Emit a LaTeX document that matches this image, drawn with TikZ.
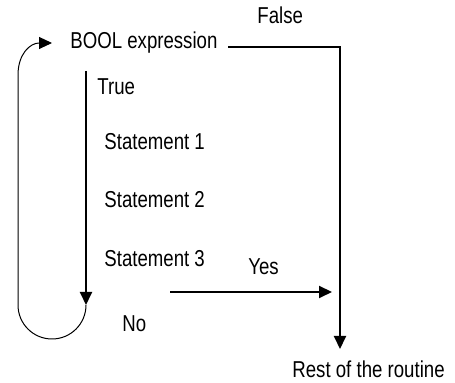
\documentclass[tikz,border=0pt]{standalone}
\usepackage{fontspec}
\setmainfont[FakeStretch=0.81]{Liberation Sans}
\usetikzlibrary{arrows.meta,positioning}
\tikzset{>={Triangle[length=6.5pt,width=6pt]}}
\tikzset{lbl/.style={font=\fontsize{11.5}{13}\selectfont,inner sep=0pt,anchor=base west}}
\tikzset{flow/.style={line width=1pt}}
\tikzset{loopback/.style={line width=0.5pt}}

\begin{document}
\begin{tikzpicture}[x=0.5pt,y=-0.5pt]
    \useasboundingbox (0,0) rectangle (455,383);

    \node[lbl] (bool)  at (70,49)   {BOOL expression};
    \node[lbl] (true)  at (97,95)   {True};
    \node[lbl] (st1)   at (104,150) {Statement 1};
    \node[lbl] (st2)   at (104,208) {Statement 2};
    \node[lbl] (st3)   at (104,267) {Statement 3};
    \node[lbl] (no)    at (122,332) {No};
    \node[lbl] (yes)   at (248,275) {Yes};
    \node[lbl] (false) at (257,24)  {False};
    \node[lbl] (rest)  at (292,378) {Rest of the routine};

    \coordinate (dtop)  at (86,71);
    \coordinate (dbot)  at (86,305);
    \coordinate (lbot)  at (18,305);
    \coordinate (ltop)  at (18,75);
    \coordinate (btip)  at (52,43);
    \coordinate (fstart) at (228,47);
    \coordinate (fcorner) at (340,47);
    \coordinate (ftip)  at (340,349);
    \coordinate (ystart) at (170,292);
    \coordinate (ytip)  at (332,292);

    % true branch and loop back
    \draw[flow,->] (dtop) -- (dbot);
    \draw[loopback,->] (dbot) arc[start angle=0,end angle=180,radius=34]
        -- (ltop) .. controls (18,54) and (30,43) .. (btip);

    % false branch
    \draw[flow,->] (fstart) -- (fcorner) -- (ftip);

    % yes
    \draw[flow,->] (ystart) -- (ytip);
\end{tikzpicture}
\end{document}
